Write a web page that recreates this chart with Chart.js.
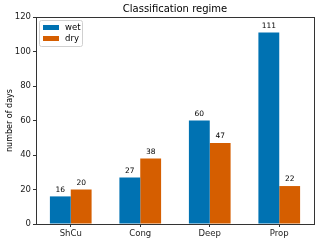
<!DOCTYPE html>
<html>
<head>
<meta charset="utf-8">
<script src="https://cdn.jsdelivr.net/npm/chart.js@4"></script>
<style>
  html, body { margin: 0; padding: 0; background: #fff; }
  #wrap { width: 320px; height: 243px; }
</style>
</head>
<body>
<div id="wrap"><canvas id="regimeChart" width="320" height="243"></canvas></div>
<script>
// Data
const regimes = ["ShCu", "Cong", "Deep", "Prop"];
const wetDays = [16, 27, 60, 111];
const dryDays = [20, 38, 47, 22];
const yTicks = [0, 20, 40, 60, 80, 100, 120];

const seriesNames = ["wet", "dry"];
const seriesColors = ["#0072B2", "#D55E00"];
const FONT = "'DejaVu Sans', sans-serif";

// frame, title, value labels and legend box (matplotlib style)
const decorations = {
    id: "decorations",
    afterDatasetsDraw(chart) {
        const { ctx, chartArea: a } = chart;
        ctx.save();
        // spines
        ctx.strokeStyle = "#333";
        ctx.lineWidth = 1;
        ctx.strokeRect(a.left + 0.5, a.top + 0.5, a.right - a.left, a.bottom - a.top);

        // title
        ctx.fillStyle = "#000";
        ctx.font = "10px " + FONT;
        ctx.textAlign = "center";
        ctx.textBaseline = "middle";
        ctx.fillText("Classification regime", (a.left + a.right) / 2, 9);

        // values above bars
        ctx.font = "7.5px " + FONT;
        ctx.textBaseline = "bottom";
        chart.data.datasets.forEach((ds, i) => {
            chart.getDatasetMeta(i).data.forEach((bar, j) => {
                ctx.fillText(String(ds.data[j]), bar.x, bar.y - 3);
            });
        });

        // legend
        const lx = a.left + 3, ly = a.top + 3, lw = 43, lh = 26;
        ctx.fillStyle = "rgba(255,255,255,0.8)";
        ctx.strokeStyle = "#d0d0d0";
        ctx.beginPath();
        ctx.roundRect(lx + 0.5, ly + 0.5, lw, lh, 2);
        ctx.fill();
        ctx.stroke();
        ctx.textAlign = "left";
        ctx.textBaseline = "middle";
        ctx.font = "8.5px " + FONT;
        seriesNames.forEach((name, i) => {
            const yy = ly + 5 + i * 11;
            ctx.fillStyle = seriesColors[i];
            ctx.fillRect(lx + 4, yy, 16, 5);
            ctx.fillStyle = "#000";
            ctx.fillText(name, lx + 26, yy + 2.5);
        });
        ctx.restore();
    },
};

new Chart(document.getElementById("regimeChart").getContext("2d"), {
    type: "bar",
    data: {
        labels: regimes,
        datasets: [
            {
                label: seriesNames[0],
                data: wetDays,
                backgroundColor: seriesColors[0],
                barPercentage: 1,
                categoryPercentage: 0.6,
            },
            {
                label: seriesNames[1],
                data: dryDays,
                backgroundColor: seriesColors[1],
                barPercentage: 1,
                categoryPercentage: 0.6,
            },
        ],
    },
    options: {
        responsive: false,
        animation: false,
        devicePixelRatio: 1,
        layout: { padding: { left: 0, top: 17, right: 6, bottom: 0 } },
        plugins: {
            legend: { display: false },
            title: { display: false },
            tooltip: { enabled: false },
        },
        scales: {
            x: {
                offset: true,
                grid: { display: true, drawOnChartArea: false, drawTicks: true, tickLength: 3, color: "#333", offset: false },
                border: { display: true, color: "#333" },
                ticks: { color: "#222", font: { family: FONT, size: 8.5 }, padding: 2 },
                afterFit(scale) { scale.height = 19; },
            },
            y: {
                min: 0,
                max: 120,
                afterBuildTicks(scale) { scale.ticks = yTicks.map((v) => ({ value: v })); },
                grid: { display: true, drawOnChartArea: false, drawTicks: true, tickLength: 3, color: "#333" },
                border: { display: true, color: "#333" },
                ticks: { color: "#222", font: { family: FONT, size: 8.5 }, padding: 2 },
                title: { display: true, text: "number of days", color: "#000", font: { family: FONT, size: 8 }, padding: { top: 5, bottom: 0 } },
                afterFit(scale) { scale.width = 36; },
            },
        },
    },
    plugins: [decorations],
});
</script>
</body>
</html>
